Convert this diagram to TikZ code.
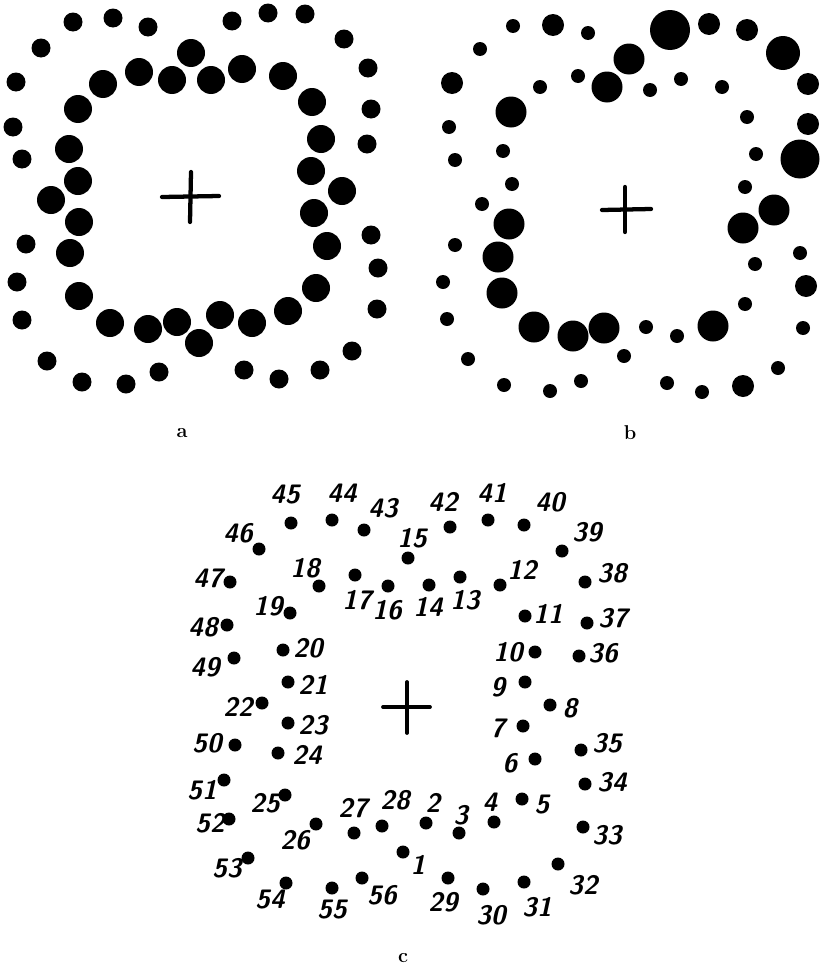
\documentclass[tikz,border=0pt]{standalone}
\usepackage{fontspec}
\newcommand\dt[3]{\fill (#1,#2) circle[radius=#3*0.75pt];}
\begin{document}
\begin{tikzpicture}[x=0.75pt,y=-0.75pt,
  crossline/.style={line width=3.2pt,line cap=round},
  lab/.style={font=\fontsize{20}{20}\selectfont\sffamily\bfseries\itshape,inner sep=0pt},
  panel/.style={font=\fontsize{15}{15}\selectfont\bfseries,inner sep=0pt}]
\useasboundingbox[fill=white] (0,0) rectangle (825,967);
% ---------- panel a ----------
\foreach \x/\y in {73/22,113/18,148/27,232/21,268/13,305/14,344/39,41/48,368/68,16/82,371/109,13/127,367/144,22/159,26/244,17/282,22/320,371/235,378/268,377/309,352/351,320/370,279/379,244/370,159/372,126/384,82/382,47/361}
  {\dt{\x}{\y}{9.5}}
\foreach \x/\y in {191/53,103/84,139/72,172/80,211/80,242/69,283/76,312/102,78/109,321/139,69/149,311/171,78/181,342/191,51/200,79/222,70/253,79/296,110/323,148/329,177/322,199/343,220/315,252/323,288/311,316/288,327/246,314/213}
  {\dt{\x}{\y}{14}}
\draw[crossline] (162,197) -- (219,196);
\draw[crossline] (191,172) -- (190,222);
\node[panel] (la) at (182,433) {a};
% ---------- panel b ----------
\foreach \x/\y in {513/26,588/33,480/49,540/87,578/76,650/90,681/79,722/87,449/127,747/117,455/160,503/151,756/154,512/184,745/187,482/204,455/245,443/282,447/319,624/356,646/327,677/336,745/304,755/264,800/253,803/328,778/368,702/392,667/383,581/381,550/391,504/385,468/359}
  {\dt{\x}{\y}{7}}
\foreach \x/\y in {553/25,709/24,747/30,452/83,808/84,808/124,806/286,743/386}
  {\dt{\x}{\y}{11}}
\foreach \x/\y in {607/87,629/59,511/112,509/224,498/257,502/293,534/327,573/336,604/328,713/326,743/228,774/210}
  {\dt{\x}{\y}{15.5}}
\dt{783}{53}{17}
\dt{670}{30}{20}
\dt{800}{159}{19.5}
\draw[crossline] (602,210) -- (651,209);
\draw[crossline] (625,187) -- (625,232);
\node[panel] (lb) at (630,433) {b};
% ---------- panel c ----------
\foreach \x/\y in {291/523,332/520,364/530,450/527,488/520,259/549,408/558,319/586,355/575,388/586,429/585,460/577,500/585,230/582,290/613,227/625,283/650,234/658,288/682,262/703,288/723,235/745,278/753,224/780,285/795,229/819,316/824,354/833,382/826,426/823,459/833,494/822,403/852,248/858,286/883,332/888,362/878,448/878,483/889,524/525,562/551,585/582,525/616,587/623,535/652,579/656,525/682,550/705,523/726,581/750,535/759,585/784,522/799,583/827,558/864,524/882}
  {\dt{\x}{\y}{6.5}}
\draw[line width=2.8pt,line cap=round] (383,707) -- (430,707);
\draw[line width=2.8pt,line cap=round] (407,682) -- (407,733);
\foreach \n/\x/\y in {45/285/495,44/342/493,43/383/508,42/443/502,41/492/493,46/238/533,15/412/538,18/305/568,17/357/600,16/387/610,14/428/607,13/465/600,12/522/570,47/208/578,19/268/606,48/203/627,20/308/648,49/205/667,21/313/685,22/238/707,23/313/725,50/207/743,24/307/755,51/202/790,25/265/803,52/210/823,26/295/840,27/353/808,28/395/800,2/433/803,3/461/815,4/490/802,1/418/865,53/227/868,54/270/900,55/332/910,56/382/895,29/443/902,30/491/915,40/550/502,39/587/532,38/612/573,11/548/614,37/613/618,10/508/652,36/603/653,9/498/687,8/570/708,7/498/728,35/607/743,6/510/763,34/612/782,5/542/805,33/607/835,32/583/885,31/537/907}
  {\node[lab] (n\n) at (\x,\y) {\n};}
\node[panel] (lc) at (403,958) {c};
\end{tikzpicture}
\end{document}
